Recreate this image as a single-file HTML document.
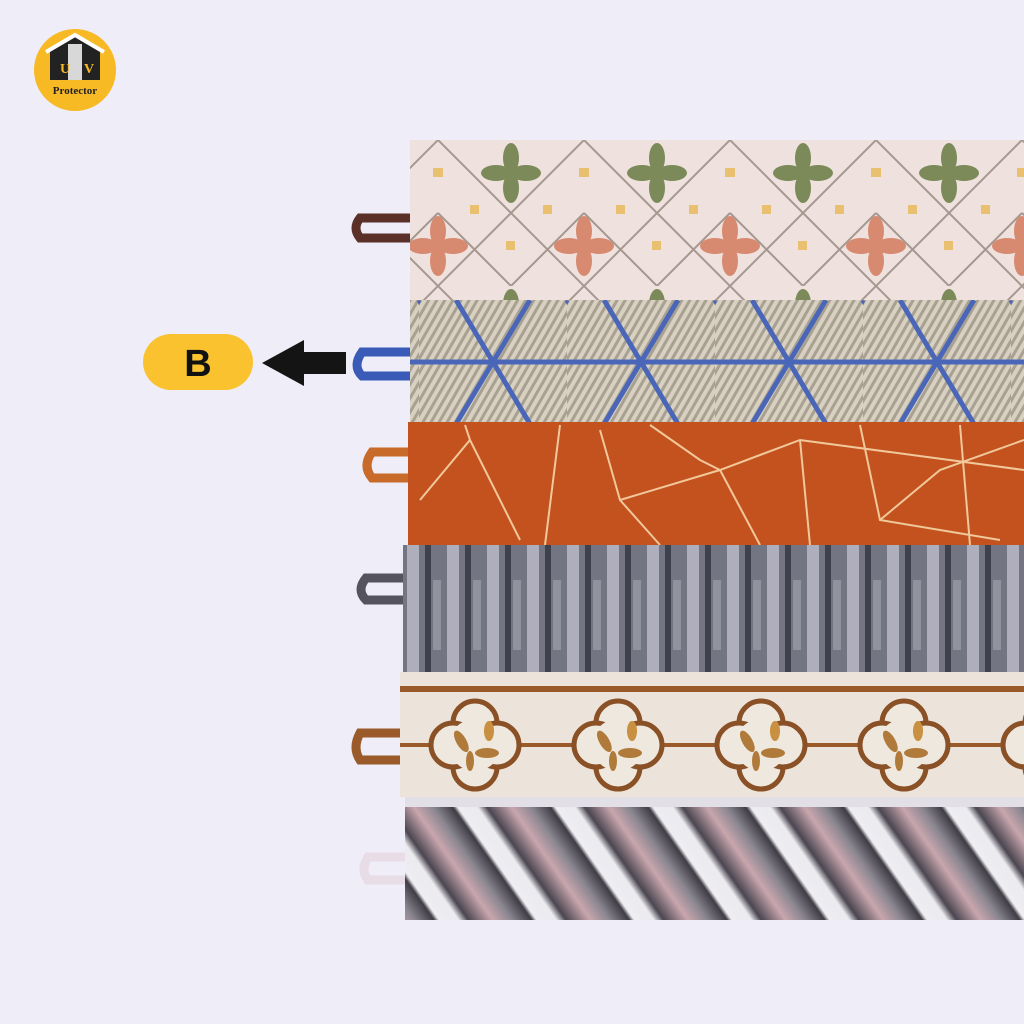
<!DOCTYPE html>
<html><head><meta charset="utf-8"><style>
html,body{margin:0;padding:0;background:#efeef8;width:1024px;height:1024px;overflow:hidden}
svg{display:block}
</style></head><body>
<svg width="1024" height="1024" viewBox="0 0 1024 1024" xmlns="http://www.w3.org/2000/svg">
<defs>
<pattern id="lat" x="438" y="140" width="146" height="146" patternUnits="userSpaceOnUse">
<rect width="146" height="146" fill="#efe2de"/>
<path d="M0 0L146 146M146 0L0 146M73 -73L146 0M0 73L73 146M-73 73L73 -73M73 146L146 73" stroke="#a59890" stroke-width="2" fill="none"/>
<g transform="translate(73,33)" fill="#7c8a5a"><ellipse cx="0" cy="-15" rx="8" ry="15"/><ellipse cx="0" cy="15" rx="8" ry="15"/><ellipse cx="-15" cy="0" rx="15" ry="8"/><ellipse cx="15" cy="0" rx="15" ry="8"/></g>
<g transform="translate(0,106)" fill="#d88a70"><ellipse cx="0" cy="-15" rx="8" ry="15"/><ellipse cx="0" cy="15" rx="8" ry="15"/><ellipse cx="-15" cy="0" rx="15" ry="8"/><ellipse cx="15" cy="0" rx="15" ry="8"/></g>
<g transform="translate(146,106)" fill="#d88a70"><ellipse cx="0" cy="-15" rx="8" ry="15"/><ellipse cx="0" cy="15" rx="8" ry="15"/><ellipse cx="-15" cy="0" rx="15" ry="8"/><ellipse cx="15" cy="0" rx="15" ry="8"/></g>
<rect x="32" y="65" width="9" height="9" fill="#e8c070"/><rect x="105" y="65" width="9" height="9" fill="#e8c070"/>
<rect x="68" y="101" width="9" height="9" fill="#e8c070"/><rect x="-4" y="28" width="9" height="9" fill="#e8c070"/><rect x="141" y="28" width="9" height="9" fill="#e8c070"/>
</pattern>
<pattern id="str" width="7" height="7" patternUnits="userSpaceOnUse" patternTransform="rotate(30)">
<rect width="7" height="7" fill="#d8d0c0"/><rect width="3" height="7" fill="#a8a090"/>
</pattern>
<pattern id="hex" x="419" y="300" width="148" height="124" patternUnits="userSpaceOnUse">
<rect width="148" height="124" fill="url(#str)"/>
<path d="M0 62H148M74 62L37 0M74 62L111 0M74 62L37 124M74 62L111 124M0 0L-37 62M148 0L185 62" stroke="#4a66b8" stroke-width="5" fill="none"/>
</pattern>
<pattern id="gry" width="40" height="130" patternUnits="userSpaceOnUse" x="403">
<rect width="40" height="130" fill="#737582"/><rect x="4" width="12" height="130" fill="#aeaebc"/><rect x="22" width="6" height="130" fill="#3e404c"/><rect x="30" y="60" width="8" height="70" fill="#90929e"/>
</pattern>
<pattern id="qf" x="404" y="672" width="143" height="125" patternUnits="userSpaceOnUse">
<rect width="143" height="125" fill="#ece4da"/>
<rect y="14" width="143" height="6" fill="#9a5a2a"/>
<path d="M0 73H143" stroke="#9a5a2a" stroke-width="4"/>
<g transform="translate(71,73)" fill="#efe8de" stroke="#8a5026" stroke-width="5"><circle cx="0" cy="-22" r="22"/><circle cx="0" cy="22" r="22"/><circle cx="-22" cy="0" r="22"/><circle cx="22" cy="0" r="22"/></g>
<g transform="translate(71,73)" fill="#efe8de"><circle r="26"/></g>
<g transform="translate(71,73)" fill="#b07a3a"><ellipse cx="-10" cy="-10" rx="5" ry="12" transform="rotate(-30)"/><ellipse cx="12" cy="8" rx="12" ry="5"/><ellipse cx="-5" cy="16" rx="4" ry="10"/><ellipse cx="14" cy="-14" rx="5" ry="10" fill="#c89040"/></g>
</pattern>
<linearGradient id="sg" x1="0" x2="1">
<stop offset="0" stop-color="#ecebef"/><stop offset="0.1" stop-color="#ecebef"/><stop offset="0.2" stop-color="#4a4650"/><stop offset="0.45" stop-color="#c9a6ae"/><stop offset="0.65" stop-color="#8a8690"/><stop offset="0.85" stop-color="#3f3c44"/><stop offset="0.9" stop-color="#efeef2"/><stop offset="1" stop-color="#ecebef"/>
</linearGradient>
<pattern id="dia" width="80" height="80" patternUnits="userSpaceOnUse" patternTransform="rotate(-35)">
<rect width="80" height="80" fill="url(#sg)"/>
</pattern>
</defs>

<circle cx="75" cy="70" r="41" fill="#f7b924"/>
<path d="M50 50L75 36L100 50V80H50Z" fill="#222"/>
<path d="M46 52L75 35L104 52" stroke="#fff" stroke-width="4" fill="none"/>
<rect x="68" y="44" width="14" height="36" fill="#d8d8d8"/>
<text x="60" y="73" font-family="Liberation Serif,serif" font-weight="bold" font-size="14" fill="#f7b924">U</text>
<text x="84" y="73" font-family="Liberation Serif,serif" font-weight="bold" font-size="14" fill="#f7b924">V</text>
<text x="75" y="94" text-anchor="middle" font-family="Liberation Serif,serif" font-weight="bold" font-size="11" fill="#222">Protector</text>

<rect x="143" y="334" width="110" height="56" rx="28" fill="#f9c22e"/>
<text x="198" y="376" text-anchor="middle" font-family="Liberation Sans,sans-serif" font-weight="bold" font-size="38" fill="#111">B</text>
<path d="M262 363L304 340V352H346V374H304V386Z" fill="#141414"/>

<g fill="none" stroke-width="9" stroke-linecap="round">
<path d="M410 218H360Q352 228 360 238H410" stroke="#5a3028"/>
<path d="M410 352H362Q352 366 362 376H410" stroke="#3a5ab8"/>
<path d="M410 452H372Q362 466 372 478H410" stroke="#c86a2a"/>
<path d="M405 578H366Q356 590 366 600H405" stroke="#55535e"/>
<path d="M405 733H360Q352 748 360 760H405" stroke="#9a5a2a"/>
<path d="M407 857H368Q360 870 368 880H407" stroke="#e8dce6"/>
</g>

<rect x="410" y="140" width="614" height="162" fill="url(#lat)"/>
<rect x="410" y="300" width="614" height="124" fill="url(#hex)"/>
<rect x="408" y="422" width="616" height="124" fill="#c4521f"/>
<g stroke="#f0c89a" stroke-width="2" fill="none">
<path d="M420 500L470 440L520 540M470 440L465 425M560 425L545 545M600 430L620 500L660 545M620 500L720 470L800 440L1024 470M720 470L760 545M800 440L810 545M860 425L880 520L1000 540M880 520L940 470L1024 440M960 425L970 545M650 425L700 460L720 470"/>
</g>
<rect x="403" y="545" width="621" height="127" fill="url(#gry)"/>
<rect x="400" y="672" width="624" height="125" fill="url(#qf)"/>
<rect x="405" y="797" width="619" height="123" fill="url(#dia)"/>
<rect x="405" y="797" width="619" height="10" fill="#e2e0e6"/>
</svg>
</body></html>
